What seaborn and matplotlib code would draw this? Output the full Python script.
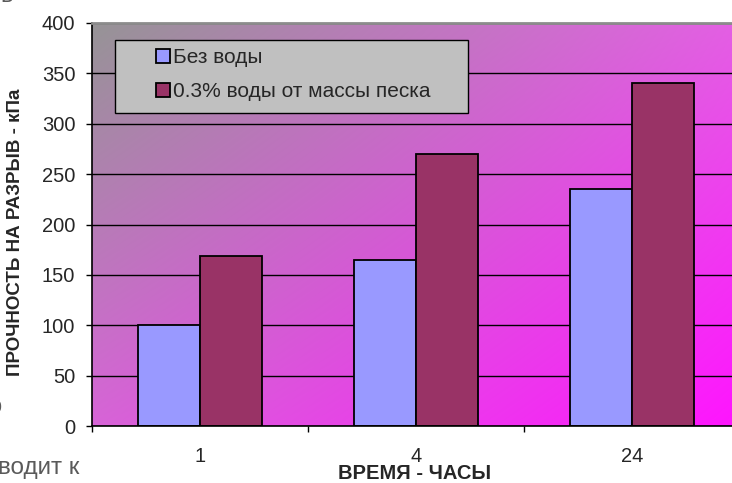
import numpy as np
import pandas as pd
import matplotlib
matplotlib.use('Agg')
import matplotlib.pyplot as plt
from matplotlib.patches import Patch, Rectangle
import seaborn as sns

# data
hours = ['1', '4', '24']
no_water = [100, 165, 235]
water_03 = [169, 270, 340]
series = ['Без воды', '0.3% воды от массы песка']
colors = ['#9999FF', '#993366']

df = pd.DataFrame({
    'hours': hours * 2,
    'value': no_water + water_03,
    'series': [series[0]] * 3 + [series[1]] * 3,
})

sns.set_style('white')
plt.rcParams['font.family'] = ['Liberation Sans', 'DejaVu Sans']

fig = plt.figure(figsize=(7.32, 4.83), dpi=100)
ax = fig.add_axes([92 / 732, 57 / 483, 648 / 732, 403 / 483])

sns.barplot(data=df, x='hours', y='value', hue='series', order=hours,
            hue_order=series, palette=colors, width=0.574, saturation=1,
            edgecolor='black', linewidth=1.3, legend=False, ax=ax)

# diagonal gray -> magenta background
tl = np.array([150, 148, 150]) / 255
tr = np.array([228, 95, 228]) / 255
bl = np.array([215, 100, 215]) / 255
br = np.array([255, 20, 255]) / 255
u = np.linspace(0, 1, 200)[None, :, None]
v = np.linspace(0, 1, 200)[:, None, None]
grad = (1 - v) * ((1 - u) * tl + u * tr) + v * ((1 - u) * bl + u * br)
ax.imshow(grad, extent=[0, 1, 0, 1], transform=ax.transAxes,
          aspect='auto', zorder=-1, interpolation='bilinear')

ax.set_xlim(-0.5, 2.5)
ax.set_ylim(0, 400)
ax.set_yticks(range(0, 401, 50))
ax.yaxis.grid(True, color='black', linewidth=1)
ax.set_axisbelow(True)

ax.set_xticks([-0.5, 0.5, 1.5], minor=True)
ax.tick_params(axis='x', which='major', length=0, pad=15, labelsize=14.5)
ax.tick_params(axis='x', which='minor', length=4, width=1, color='black',
               direction='out', bottom=True)
ax.tick_params(axis='y', length=4, width=1, color='black', direction='out',
               left=True, pad=8, labelsize=14.5)

for s in ['left', 'bottom']:
    ax.spines[s].set_color('black')
    ax.spines[s].set_linewidth(1.2)
ax.spines['top'].set_color('#8c8c8c')
ax.spines['top'].set_linewidth(2)
ax.spines['right'].set_visible(False)

ax.set_xlabel('ВРЕМЯ - ЧАСЫ', fontsize=14.5, fontweight='bold', labelpad=0)
ax.set_ylabel('ПРОЧНОСТЬ НА РАЗРЫВ - кПа', fontsize=13.5, fontweight='bold')
ax.xaxis.set_label_coords(323 / 648, -38 / 403)
ax.yaxis.set_label_coords(-68 / 648, 194 / 403)

# legend box
box = Rectangle((115 / 732, 1 - 113 / 483), 353 / 732, 73 / 483,
                transform=fig.transFigure, facecolor='#c0c0c0',
                edgecolor='black', linewidth=1, zorder=4)
ax.add_patch(box)
handles = [Patch(facecolor=c, edgecolor='black', linewidth=1.3) for c in colors]
ax.legend(handles, series, frameon=False, loc='upper left',
          bbox_to_anchor=(156 / 732, 1 - 48 / 483), bbox_transform=fig.transFigure,
          fontsize=15, handlelength=0.65, handleheight=0.65,
          handletextpad=0.15, labelspacing=0.72, borderpad=0, borderaxespad=0)

# fragments of the surrounding page text
fig.text(0.0, 1.008, 'в', fontsize=17, color='#5a5a5a', va='center')
fig.text(-0.015, 1 - 407 / 483, 'о', fontsize=17, color='#5a5a5a', va='center')
fig.text(-0.003, 1 - 468 / 483, 'водит к', fontsize=17.5, color='#5a5a5a', va='center')

fig.savefig('out.png', dpi=100)
